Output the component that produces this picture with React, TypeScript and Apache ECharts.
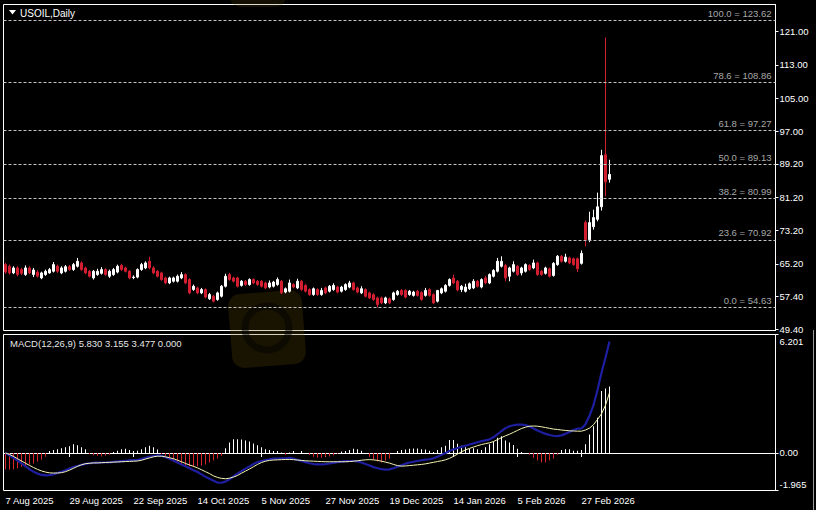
import React, { useEffect, useRef } from "react";
import * as echarts from "echarts";

// ---------- data ----------
const SYMBOL_TITLE = "USOIL,Daily";
const START_DATE = [2025, 7, 7]; // 7 Aug 2025 (month is 0-based)
const HOLIDAYS = ["2025-12-25", "2026-01-01"];
const BAR_COUNT = 152;
const SLOT_COUNT = 193; // includes the empty chart shift on the right
const LABEL_EVERY = 16;

const opens = [
  65.0, 64.6, 63.0, 64.2, 63.8, 62.6, 64.2, 62.6, 63.2, 61.8,
  62.6, 63.0, 63.4, 64.6, 63.0, 63.4, 64.5, 63.8, 64.6, 65.4,
  64.2, 63.4, 61.8, 62.6, 62.9, 63.8, 62.2, 62.6, 63.2, 64.8,
  64.2, 63.4, 61.9, 62.0, 63.8, 64.2, 65.8, 64.2, 63.4, 63.0,
  61.8, 60.6, 61.0, 61.0, 61.8, 62.6, 61.4, 59.0, 59.4, 58.2,
  59.0, 56.8, 57.4, 56.6, 57.4, 59.8, 62.6, 61.8, 61.8, 60.0,
  61.0, 60.2, 61.4, 61.0, 61.0, 60.6, 59.6, 59.8, 60.2, 61.0,
  58.4, 58.6, 60.2, 59.4, 61.0, 60.0, 59.0, 57.8, 59.0, 57.8,
  59.4, 58.6, 59.0, 59.6, 58.6, 59.0, 59.6, 60.6, 59.4, 58.2,
  59.0, 58.2, 57.8, 57.0, 57.0, 55.8, 56.8, 56.6, 57.8, 58.8,
  58.8, 57.8, 57.6, 58.6, 58.3, 57.6, 59.0, 57.8, 56.2, 58.2,
  58.6, 60.0, 61.8, 61.0, 59.0, 58.6, 59.2, 59.4, 61.0, 59.6,
  61.8, 60.6, 62.2, 63.4, 64.6, 64.8, 62.2, 63.4, 64.6, 63.0,
  63.4, 64.8, 64.2, 65.4, 63.4, 62.9, 64.0, 62.4, 65.0, 67.0,
  65.8, 66.6, 66.4, 66.4, 65.3, 75.1, 71.0, 74.1, 75.9, 78.9,
  91.4, 85.5,
];
const closes = [
  63.2, 63.0, 64.2, 62.6, 62.9, 64.2, 63.0, 63.7, 62.2, 63.0,
  63.4, 63.8, 65.0, 63.4, 64.2, 64.5, 63.8, 65.0, 65.8, 63.8,
  63.0, 62.2, 63.4, 63.4, 63.8, 62.6, 63.4, 63.8, 64.6, 63.8,
  63.4, 61.8, 62.0, 63.8, 65.0, 65.4, 64.2, 63.0, 62.2, 61.4,
  60.6, 61.8, 61.8, 62.2, 62.6, 60.6, 58.2, 59.8, 58.2, 59.0,
  57.2, 57.8, 56.2, 58.2, 59.8, 62.2, 61.4, 61.0, 59.8, 61.0,
  60.2, 61.4, 60.6, 60.2, 59.8, 59.4, 60.6, 60.8, 61.4, 58.2,
  59.2, 60.6, 59.6, 61.0, 59.0, 58.6, 57.8, 59.2, 57.8, 58.8,
  58.2, 59.8, 60.0, 58.4, 59.6, 60.2, 60.6, 59.0, 58.4, 59.2,
  57.4, 57.0, 56.6, 55.4, 55.8, 57.0, 55.8, 58.2, 58.6, 57.8,
  57.2, 58.6, 58.4, 57.6, 56.6, 58.8, 57.6, 55.8, 58.8, 59.2,
  60.0, 61.4, 60.6, 58.9, 59.8, 59.6, 60.4, 61.0, 59.8, 61.4,
  60.6, 62.6, 63.6, 65.8, 65.8, 61.8, 64.2, 65.0, 62.6, 64.2,
  65.0, 63.8, 65.4, 62.6, 62.6, 64.2, 62.2, 65.3, 67.0, 65.8,
  66.8, 65.4, 65.0, 64.0, 67.7, 71.0, 75.1, 76.3, 78.9, 91.2,
  84.9, 86.68,
];
const highs = [
  65.4, 65.0, 64.6, 64.6, 64.2, 64.8, 64.6, 64.2, 63.6, 63.3,
  63.8, 64.2, 65.6, 65.0, 64.6, 64.9, 64.9, 65.4, 66.6, 65.8,
  64.5, 63.7, 63.7, 64.0, 64.4, 64.1, 63.8, 64.2, 65.0, 65.2,
  64.5, 63.7, 62.4, 64.1, 65.4, 65.8, 66.9, 64.6, 63.7, 63.3,
  62.1, 62.1, 62.1, 62.6, 63.2, 62.9, 61.7, 60.2, 59.7, 59.4,
  59.3, 58.2, 57.7, 58.5, 60.1, 62.8, 63.0, 62.1, 62.1, 61.3,
  61.3, 61.7, 61.7, 61.3, 61.3, 60.9, 61.2, 61.1, 61.9, 61.3,
  59.5, 61.4, 60.5, 61.6, 61.3, 60.3, 59.3, 59.5, 59.3, 59.4,
  59.7, 60.1, 60.5, 59.9, 59.9, 60.5, 61.1, 60.9, 59.7, 59.8,
  59.3, 58.5, 58.1, 57.3, 57.3, 57.3, 57.1, 58.5, 58.9, 59.1,
  59.1, 58.9, 58.7, 58.9, 58.6, 59.4, 59.3, 58.1, 58.9, 59.5,
  60.3, 61.7, 62.6, 61.3, 60.1, 60.4, 60.7, 61.5, 61.3, 61.7,
  62.3, 62.9, 63.9, 66.6, 67.0, 65.2, 64.5, 65.8, 64.9, 64.5,
  65.3, 65.1, 66.2, 65.7, 63.7, 64.5, 64.3, 65.6, 67.3, 67.3,
  67.6, 66.9, 66.7, 66.7, 68.4, 75.6, 77.7, 78.2, 82.3, 92.6,
  119.6, 90.2,
];
const lows = [
  62.8, 62.6, 62.7, 62.2, 62.5, 62.3, 62.7, 62.0, 61.9, 61.5,
  62.3, 62.8, 63.1, 63.0, 62.7, 63.1, 63.5, 63.5, 64.3, 63.5,
  62.7, 61.9, 61.4, 62.3, 62.6, 62.3, 61.8, 62.3, 62.9, 63.5,
  63.1, 61.5, 61.5, 61.7, 63.5, 63.9, 63.9, 62.7, 61.9, 61.1,
  60.3, 60.3, 60.7, 60.7, 61.5, 60.3, 57.9, 58.7, 57.9, 57.9,
  56.9, 56.5, 55.9, 56.3, 57.1, 59.5, 61.1, 60.7, 59.5, 59.7,
  59.9, 59.9, 60.3, 59.9, 59.5, 59.1, 59.3, 59.5, 59.9, 57.9,
  58.1, 58.3, 59.3, 59.1, 58.7, 58.3, 57.5, 57.5, 57.5, 57.5,
  57.9, 58.3, 58.7, 58.1, 58.3, 58.7, 59.3, 58.7, 58.1, 57.9,
  57.1, 56.7, 56.3, 54.7, 55.5, 55.5, 55.5, 56.3, 57.5, 57.5,
  56.9, 57.5, 57.3, 57.3, 56.3, 57.3, 57.3, 55.5, 55.9, 57.9,
  58.3, 59.7, 60.3, 58.6, 58.4, 58.3, 58.9, 59.1, 59.5, 59.3,
  60.3, 60.3, 61.9, 63.1, 64.3, 61.0, 61.0, 63.1, 62.3, 62.4,
  63.1, 63.5, 63.9, 62.3, 62.3, 62.6, 61.9, 62.1, 64.7, 65.5,
  65.5, 65.1, 64.7, 63.2, 65.0, 69.4, 70.4, 73.4, 75.4, 78.0,
  81.4, 84.7,
];

// MACD(12,26,9)
const macdLine = [
  0.0, -0.12, -0.25, -0.4, -0.55, -0.7, -0.85, -0.98, -1.08, -1.15,
  -1.17, -1.16, -1.12, -1.05, -0.98, -0.9, -0.82, -0.74, -0.68, -0.62,
  -0.57, -0.54, -0.52, -0.51, -0.5, -0.5, -0.49, -0.47, -0.45, -0.43,
  -0.41, -0.39, -0.38, -0.36, -0.32, -0.26, -0.2, -0.16, -0.13, -0.15,
  -0.22, -0.3, -0.4, -0.5, -0.6, -0.7, -0.8, -0.9, -1.0, -1.12,
  -1.25, -1.35, -1.45, -1.55, -1.56, -1.5, -1.38, -1.22, -1.08, -0.95,
  -0.82, -0.7, -0.58, -0.48, -0.42, -0.37, -0.33, -0.3, -0.29, -0.28,
  -0.28, -0.25, -0.3, -0.36, -0.42, -0.48, -0.54, -0.58, -0.6, -0.6,
  -0.58, -0.55, -0.52, -0.48, -0.45, -0.43, -0.42, -0.42, -0.44, -0.5,
  -0.58, -0.66, -0.74, -0.8, -0.85, -0.87, -0.86, -0.8, -0.72, -0.64,
  -0.56, -0.5, -0.46, -0.42, -0.38, -0.35, -0.33, -0.28, -0.2, -0.1,
  0.0, 0.1, 0.19, 0.26, 0.32, 0.38, 0.44, 0.5, 0.56, 0.62,
  0.66, 0.71, 0.82, 0.98, 1.15, 1.3, 1.4, 1.45, 1.48, 1.49,
  1.46, 1.38, 1.28, 1.18, 1.08, 1.0, 0.94, 0.9, 0.88, 0.92,
  1.0, 1.1, 1.2, 1.27, 1.28, 1.5, 1.95, 2.5, 3.3, 4.2,
  5.0, 5.83,
];
const signalLine = [
  0.0, -0.08, -0.18, -0.3, -0.42, -0.54, -0.65, -0.76, -0.86, -0.94,
  -1.0, -1.04, -1.05, -1.05, -1.03, -0.98, -0.9, -0.8, -0.7, -0.62,
  -0.56, -0.54, -0.52, -0.52, -0.51, -0.5, -0.49, -0.48, -0.47, -0.46,
  -0.45, -0.44, -0.43, -0.42, -0.38, -0.32, -0.26, -0.2, -0.17, -0.17,
  -0.2, -0.25, -0.3, -0.38, -0.46, -0.55, -0.63, -0.7, -0.78, -0.88,
  -0.98, -1.08, -1.2, -1.28, -1.33, -1.35, -1.32, -1.26, -1.18, -1.06,
  -0.95, -0.84, -0.72, -0.6, -0.5, -0.43, -0.39, -0.37, -0.36, -0.35,
  -0.34, -0.34, -0.35, -0.37, -0.39, -0.41, -0.42, -0.43, -0.44, -0.45,
  -0.46, -0.46, -0.46, -0.46, -0.46, -0.46, -0.45, -0.43, -0.41, -0.38,
  -0.36, -0.35, -0.36, -0.39, -0.43, -0.48, -0.53, -0.6, -0.66, -0.69,
  -0.68, -0.66, -0.64, -0.62, -0.6, -0.57, -0.53, -0.49, -0.45, -0.41,
  -0.36, -0.28, -0.18, -0.06, 0.06, 0.16, 0.24, 0.31, 0.38, 0.44,
  0.49, 0.53, 0.6, 0.7, 0.8, 0.9, 0.98, 1.08, 1.18, 1.28,
  1.35, 1.4, 1.41, 1.4, 1.37, 1.33, 1.29, 1.25, 1.23, 1.2,
  1.18, 1.16, 1.15, 1.14, 1.14, 1.2, 1.3, 1.48, 1.75, 2.05,
  2.5, 3.155,
];
const histogram = [
  -0.85, -0.88, -0.85, -0.8, -0.72, -0.65, -0.6, -0.55, -0.45, -0.35,
  -0.2, 0.1, 0.15, 0.2, 0.25, 0.3, 0.35, 0.45, 0.4, 0.3,
  0.2, -0.05, -0.12, -0.15, -0.18, -0.15, -0.1, 0.05, 0.12, 0.2,
  0.22, 0.15, 0.1, 0.12, 0.2, 0.3, 0.38, 0.3, 0.18, -0.05,
  -0.2, -0.35, -0.45, -0.55, -0.6, -0.65, -0.7, -0.72, -0.7, -0.65,
  -0.6, -0.5, -0.4, -0.3, -0.15, 0.25, 0.55, 0.72, 0.72, 0.7,
  0.65, 0.6, 0.5, 0.4, 0.3, 0.2, 0.15, 0.1, 0.1, 0.02,
  -0.1, 0.02, 0.1, 0.0, 0.1, 0.0, -0.1, -0.2, -0.25, -0.25,
  -0.2, -0.18, -0.12, -0.05, 0.08, 0.1, 0.15, 0.22, 0.2, 0.12,
  0.0, -0.2, -0.35, -0.45, -0.5, -0.4, -0.3, 0.0, 0.1, 0.15,
  0.18, 0.22, 0.24, 0.24, 0.2, 0.18, 0.12, 0.05, 0.15, 0.3,
  0.38, 0.68, 0.68, 0.48, 0.38, 0.3, 0.22, 0.25, 0.2, 0.15,
  0.3, 0.45, 0.6, 0.8, 0.88, 0.65, 0.55, 0.42, 0.22, 0.05,
  0.0, -0.1, -0.25, -0.4, -0.5, -0.5, -0.4, -0.3, -0.1, 0.15,
  0.2, 0.2, 0.12, 0.12, 0.15, 0.45, 0.97, 1.4, 1.84, 3.24,
  3.38, 3.477,
];
const macdLegendValues = ["5.830", "3.155", "3.477", "0.000"];

const priceTicks = [121.0, 113.0, 105.0, 97.0, 89.2, 81.2, 73.2, 65.2, 57.4, 49.4];
const priceMin = 49.16;
const priceMax = 127.52;
const macdTicks = [6.201, 0, -1.965];
const macdMin = -1.965;
const macdMax = 6.201;

const fibPercents = ["100.0", "78.6", "61.8", "50.0", "38.2", "23.6", "0.0"];
const fibPrices = [123.62, 108.86, 97.27, 89.13, 80.99, 70.92, 54.63];
const lastPrice = 86.68;

// ---------- helpers ----------
const MONTHS = ["Jan", "Feb", "Mar", "Apr", "May", "Jun", "Jul", "Aug", "Sep", "Oct", "Nov", "Dec"];
function tradingDays(): string[] {
  const out: string[] = [];
  const d = new Date(Date.UTC(START_DATE[0], START_DATE[1], START_DATE[2]));
  while (out.length < BAR_COUNT) {
    const dow = d.getUTCDay();
    const iso = d.toISOString().slice(0, 10);
    if (dow !== 0 && dow !== 6 && HOLIDAYS.indexOf(iso) < 0) {
      out.push(`${d.getUTCDate()} ${MONTHS[d.getUTCMonth()]} ${d.getUTCFullYear()}`);
    }
    d.setUTCDate(d.getUTCDate() + 1);
  }
  return out;
}

const FONT = "'Liberation Sans', Arial, sans-serif";
const RED = "#d21e30";

export default function App() {
  const ref = useRef<HTMLDivElement>(null);

  useEffect(() => {
    if (!ref.current) return;
    const chart = echarts.init(ref.current, undefined, { renderer: "svg" });

    const dates = tradingDays();
    const categories: string[] = [];
    for (let i = 0; i < SLOT_COUNT; i++) categories.push(i < BAR_COUNT ? dates[i] : `slot${i}`);

    const candles = opens.map((o, i) => [o, closes[i], lows[i], highs[i]]);
    const histData = histogram.map((v) => ({
      value: v,
      itemStyle: { color: v >= 0 ? "#ffffff" : "#d8262c" },
    }));

    const showIdx = (index: number) => index % LABEL_EVERY === 0 && index < BAR_COUNT;

    const fibData: any[] = fibPercents.map((p, i) => ({
      name: `${p} = ${fibPrices[i].toFixed(2)}`,
      yAxis: fibPrices[i],
    }));
    fibData.push({
      name: lastPrice.toFixed(2),
      yAxis: lastPrice,
      lineStyle: { opacity: 0, width: 0 },
      label: {
        show: true,
        position: "end",
        formatter: "{b}",
        color: "#000000",
        backgroundColor: "#ffffff",
        padding: [1, 2, 0, 2],
        distance: 1,
        fontSize: 9.5,
        fontFamily: FONT,
      },
    });

    const option: any = {
      animation: false,
      backgroundColor: "#000000",
      grid: [
        { left: 3.5, top: 4.5, width: 772, height: 326, show: true, borderColor: "#ffffff", borderWidth: 1, backgroundColor: "transparent" },
        { left: 3.5, top: 334.5, width: 772, height: 156, show: true, borderColor: "#ffffff", borderWidth: 1, backgroundColor: "transparent" },
      ],
      xAxis: [
        {
          type: "category",
          gridIndex: 0,
          data: categories,
          boundaryGap: true,
          axisLine: { show: false },
          axisTick: { show: false },
          axisLabel: { show: false },
          splitLine: { show: false },
        },
        {
          type: "category",
          gridIndex: 1,
          data: categories,
          boundaryGap: true,
          axisLine: { show: true, lineStyle: { color: "#ffffff" } },
          axisTick: { show: true, alignWithLabel: true, interval: showIdx, length: 4, lineStyle: { color: "#ffffff" } },
          axisLabel: {
            show: true,
            interval: showIdx,
            align: "left",
            margin: 5,
            color: "#ffffff",
            fontSize: 9.5,
            fontFamily: FONT,
            formatter: (v: string) => (v.indexOf("slot") === 0 ? "" : v),
          },
          splitLine: { show: false },
        },
      ],
      yAxis: [
        {
          type: "value",
          gridIndex: 0,
          position: "right",
          min: priceMin,
          max: priceMax,
          axisLine: { show: true, lineStyle: { color: "#ffffff" } },
          axisTick: { show: true, length: 3, lineStyle: { color: "#ffffff" }, customValues: priceTicks },
          axisLabel: {
            show: true,
            customValues: priceTicks,
            margin: 4,
            color: "#ffffff",
            fontSize: 9.5,
            fontFamily: FONT,
            formatter: (v: number) => v.toFixed(2),
          },
          splitLine: { show: false },
        },
        {
          type: "value",
          gridIndex: 1,
          position: "right",
          min: macdMin,
          max: macdMax,
          axisLine: { show: true, lineStyle: { color: "#ffffff" } },
          axisTick: { show: true, length: 3, lineStyle: { color: "#ffffff" }, customValues: macdTicks },
          axisLabel: {
            show: true,
            customValues: macdTicks,
            margin: 4,
            color: "#ffffff",
            fontSize: 9.5,
            fontFamily: FONT,
            formatter: (v: number) => {
              if (v > 6) return `{top|${v.toFixed(3)}}`;
              if (v < -1) return `{bot|${v.toFixed(3)}}`;
              return v.toFixed(2);
            },
            rich: {
              top: { padding: [14, 0, 0, 0], color: "#ffffff", fontSize: 9.5, fontFamily: FONT },
              bot: { padding: [0, 0, 12, 0], color: "#ffffff", fontSize: 9.5, fontFamily: FONT },
            },
          },
          splitLine: { show: false },
        },
      ],
      series: [
        {
          type: "candlestick",
          xAxisIndex: 0,
          yAxisIndex: 0,
          data: candles,
          barWidth: 3,
          itemStyle: {
            color: "#ffffff",
            color0: RED,
            borderColor: "#ffffff",
            borderColor0: RED,
            borderWidth: 1,
          },
          markLine: {
            silent: true,
            symbol: ["none", "none"],
            animation: false,
            lineStyle: { color: "#c4c4c4", type: [3, 2], width: 1 },
            label: {
              show: true,
              position: "insideEndTop",
              formatter: "{b}",
              color: "#a8a8a8",
              fontSize: 9.5,
              fontFamily: FONT,
              distance: [4, 2],
            },
            emphasis: { disabled: true },
            data: fibData,
          },
        },
        {
          type: "bar",
          name: "hist",
          xAxisIndex: 1,
          yAxisIndex: 1,
          data: histData,
          barWidth: 1,
          silent: true,
        },
        {
          type: "line",
          name: "MACD",
          xAxisIndex: 1,
          yAxisIndex: 1,
          data: macdLine,
          showSymbol: false,
          silent: true,
          lineStyle: { color: "#1e1ea0", width: 2.2 },
          z: 3,
        },
        {
          type: "line",
          name: "Signal",
          xAxisIndex: 1,
          yAxisIndex: 1,
          data: signalLine,
          showSymbol: false,
          silent: true,
          lineStyle: { color: "#f6f6b4", width: 1 },
          z: 4,
        },
      ],
      graphic: [
        {
          type: "group",
          silent: true,
          z: -10,
          children: [
            {
              type: "rect",
              x: 230,
              y: 292,
              shape: { width: 74, height: 74, r: 12 },
              rotation: 0.08,
              originX: 37,
              originY: 37,
              style: { fill: "rgba(96, 74, 8, 0.26)" },
            },
            {
              type: "circle",
              shape: { cx: 267, cy: 328, r: 22 },
              style: { fill: "none", stroke: "rgba(0, 0, 0, 0.45)", lineWidth: 7 },
            },
            {
              type: "rect",
              x: 230,
              y: -40,
              shape: { width: 56, height: 47, r: 10 },
              style: { fill: "rgba(96, 74, 8, 0.2)" },
            },
          ],
        },
        {
          type: "polygon",
          silent: true,
          shape: { points: [[9, 10], [16, 10], [12.5, 14.5]] },
          style: { fill: "#ffffff" },
          z: 10,
        },
        {
          type: "text",
          x: 20,
          y: 13,
          silent: true,
          z: 10,
          style: { text: SYMBOL_TITLE, fill: "#ffffff", font: `10px ${FONT}`, verticalAlign: "middle" },
        },
        {
          type: "text",
          x: 10,
          y: 343,
          silent: true,
          z: 10,
          style: {
            text: `MACD(12,26,9) ${macdLegendValues.join(" ")}`,
            fill: "#e6e6e6",
            font: `9.5px ${FONT}`,
            verticalAlign: "middle",
          },
        },
        {
          type: "line",
          silent: true,
          shape: { x1: 813.5, y1: 330, x2: 813.5, y2: 510 },
          style: { stroke: "#9a9a9a", lineWidth: 1 },
        },
      ],
    };

    chart.setOption(option);
    return () => {
      chart.dispose();
    };
  }, []);

  return (
    <div style={{ position: "fixed", left: 0, top: 0, width: 816, height: 510, background: "#000" }}>
      <div ref={ref} style={{ width: 816, height: 510 }} />
    </div>
  );
}
